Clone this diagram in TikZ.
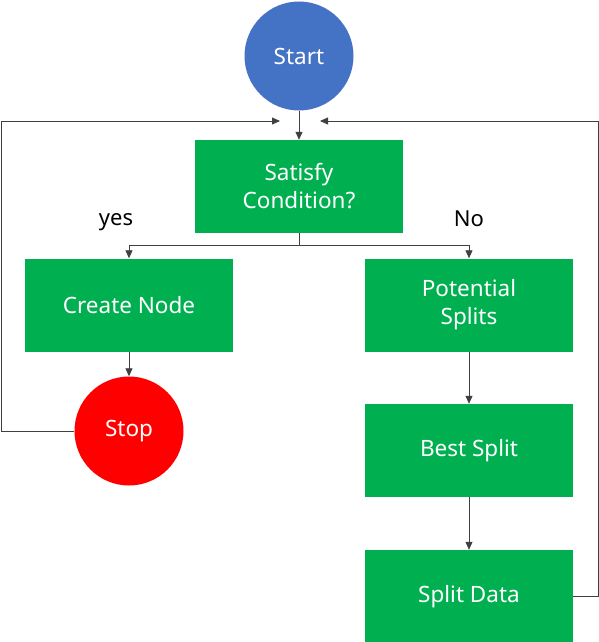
\documentclass[tikz,border=0pt]{standalone}
\usepackage{fontspec}
\setmainfont{Noto Sans}
\usetikzlibrary{arrows.meta}
\definecolor{startblue}{HTML}{4472C4}
\definecolor{boxgreen}{HTML}{00B050}
\definecolor{stopred}{HTML}{FF0000}
\definecolor{linegray}{HTML}{404040}
\begin{document}
\begin{tikzpicture}[x=1pt,y=-1pt,
  box/.style={rectangle,fill=boxgreen,minimum width=208pt,minimum height=93pt,inner sep=0pt,
    text=white,font=\fontsize{22.5}{28}\selectfont,align=center},
  term/.style={circle,minimum size=109pt,inner sep=0pt,text=white,font=\fontsize{22.5}{28}\selectfont},
  conn/.style={draw=linegray,line width=0.8pt,-{Triangle[length=8pt,width=7pt]}},
  plain/.style={draw=linegray,line width=0.8pt},
  lbl/.style={font=\fontsize{22}{26}\selectfont,text=black}]
\useasboundingbox (0,0) rectangle (599,642);
\node[term,fill=startblue] (start) at (299,56) {Start};
\node[box] (sat) at (299,186.5) {Satisfy\\Condition?};
\node[box] (create) at (129,305) {Create Node};
\node[box] (pot) at (469,305) {Potential\\Splits};
\node[box] (best) at (469,450.5) {Best Split};
\node[box] (data) at (469,596.5) {Split Data};
\node[term,fill=stopred] (stop) at (129,431) {Stop};
\node[lbl] (yes) at (116,222) {yes};
\node[lbl] (no) at (469,219) {No};
\coordinate (lt) at (280,121);
\coordinate (rt) at (320,121);
\coordinate (jn) at (299,245);
\draw[conn] (start) -- (sat);
\draw[plain] (sat.south) -- (jn);
\draw[conn] (jn) -| (create.north);
\draw[conn] (jn) -| (pot.north);
\draw[conn] (create.south) -- (stop.north);
\draw[conn] (pot) -- (best);
\draw[conn] (best) -- (data);
\draw[conn] (stop.west) -| (1,121) -- (lt);
\draw[conn] (data.east) -| (598,121) -- (rt);
\end{tikzpicture}
\end{document}
